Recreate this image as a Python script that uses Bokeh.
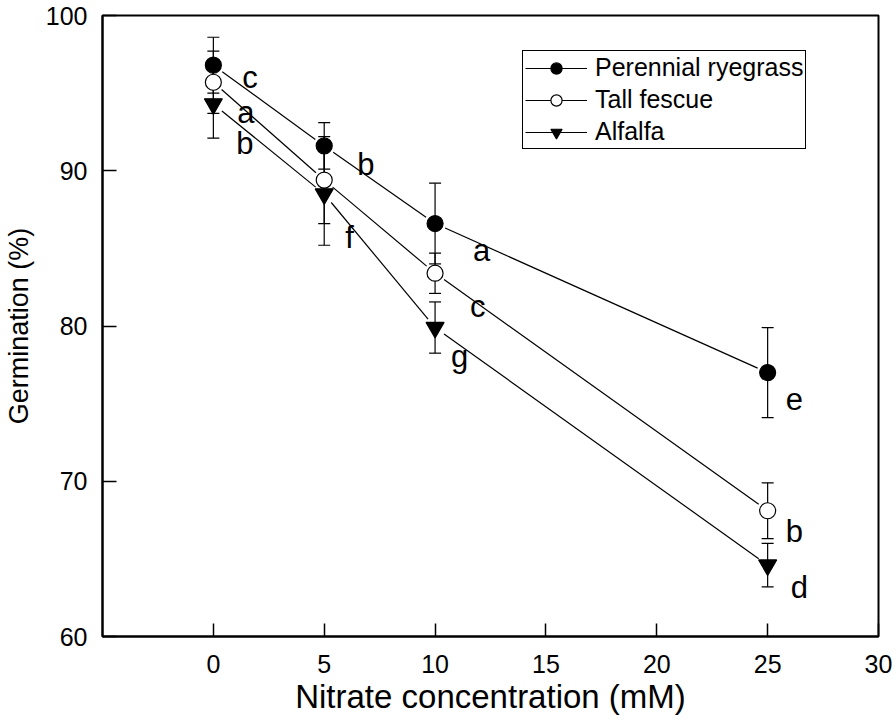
import numpy as np
from bokeh.plotting import figure
from bokeh.models import (ColumnDataSource, Whisker, TeeHead, Legend, LegendItem,
                          Range1d, FixedTicker)
from bokeh.embed import file_html
from bokeh.resources import INLINE
from bokeh.core.properties import value

# ---------------- data ----------------
conc = [0, 5, 10, 25]

rye = [96.8, 91.6, 86.6, 77.0]
rye_err = [1.8, 1.5, 2.6, 2.9]
rye_letters = ["c", "b", "a", "e"]

fescue = [95.7, 89.4, 83.4, 68.1]
fescue_err = [2.0, 2.8, 1.3, 1.8]
fescue_letters = ["a", "", "c", "b"]

alfalfa = [94.3, 88.5, 79.9, 64.6]
alfalfa_err = [2.2, 3.3, 1.65, 1.4]
alfalfa_letters = ["b", "f", "g", "d"]

series_names = ["Perennial ryegrass", "Tall fescue", "Alfalfa"]
x_ticks = [0, 5, 10, 15, 20, 25, 30]
y_ticks = [60, 70, 80, 90, 100]

# ---------------- layout / style ----------------
FONT = "Liberation Sans"
W, H = 894, 719
ML, MR, MT, MB = 101, 16, 15, 83
FW, FH = W - ML - MR, H - MT - MB
X0, X1, Y0, Y1 = -5, 30, 60, 100
SX, SY = FW / (X1 - X0), FH / (Y1 - Y0)
GAP = 11  # px gap between connecting lines and markers

# letter offsets (px, relative to the point, left/baseline anchored)
rye_off = [(29, 12), (33, 19), (38, 27), (18, 26)]
fescue_off = [(24, 30), (0, 0), (35, 33), (18, 21)]
alfalfa_off = [(23, 40), (21, 43), (16, 29), (23, 22)]

styles = [
    dict(marker="circle", fill="black", size=16),
    dict(marker="circle", fill="white", size=16),
    dict(marker="inverted_triangle", fill="black", size=18),
]

p = figure(width=W, height=H, x_range=Range1d(X0, X1), y_range=Range1d(Y0, Y1),
           output_backend="svg", toolbar_location=None,
           min_border_left=ML, min_border_right=MR, min_border_top=MT,
           min_border_bottom=MB)
p.background_fill_color = "white"
p.border_fill_color = "white"
p.grid.visible = False
p.outline_line_color = "black"
p.outline_line_width = 2
p.outline_line_alpha = 1

for ax in (p.xaxis[0], p.yaxis[0]):
    ax.axis_line_width = 2
    ax.axis_line_color = "black"
    ax.major_tick_line_width = 1.5
    ax.major_tick_line_color = "black"
    ax.minor_tick_line_color = None
    ax.major_tick_out = 0
    ax.major_label_text_font = FONT
    ax.major_label_text_font_size = "25px"
    ax.major_label_text_color = "black"
    ax.axis_label_text_font = FONT
    ax.axis_label_text_font_style = "normal"
    ax.axis_label_text_color = "black"

p.xaxis.ticker = FixedTicker(ticks=x_ticks)
p.yaxis.ticker = FixedTicker(ticks=y_ticks)
p.xaxis.major_tick_in = 13
p.yaxis.major_tick_in = 14
p.xaxis.major_label_standoff = 18
p.yaxis.major_label_standoff = 15
p.xaxis.axis_label = "Nitrate concentration (mM)"
p.yaxis.axis_label = "Germination (%)"
p.xaxis.axis_label_text_font_size = "33px"
p.yaxis.axis_label_text_font_size = "27px"
p.xaxis.axis_label_standoff = 2
p.yaxis.axis_label_standoff = 9

all_vals = [rye, fescue, alfalfa]
all_errs = [rye_err, fescue_err, alfalfa_err]
all_letters = [rye_letters, fescue_letters, alfalfa_letters]
all_offs = [rye_off, fescue_off, alfalfa_off]

items = []
for name, vals, errs, letters, offs, st in zip(series_names, all_vals, all_errs,
                                                all_letters, all_offs, styles):
    x = np.array(conc, dtype=float)
    y = np.array(vals, dtype=float)
    e = np.array(errs, dtype=float)
    # connecting segments, shortened near the markers
    x0s, y0s, x1s, y1s = [], [], [], []
    for i in range(len(x) - 1):
        dxp = (x[i + 1] - x[i]) * SX
        dyp = (y[i + 1] - y[i]) * SY
        L = np.hypot(dxp, dyp)
        ux, uy = dxp / L, dyp / L
        x0s.append(x[i] + ux * GAP / SX)
        y0s.append(y[i] + uy * GAP / SY)
        x1s.append(x[i + 1] - ux * GAP / SX)
        y1s.append(y[i + 1] - uy * GAP / SY)
    seg = p.segment(x0=x0s, y0=y0s, x1=x1s, y1=y1s, line_color="black", line_width=1.2)

    src = ColumnDataSource(dict(x=x, upper=y + e, lower=y - e))
    wh = Whisker(base="x", upper="upper", lower="lower", source=src,
                 line_color="black", line_width=1.2, level="underlay",
                 upper_head=TeeHead(size=12, line_width=1.2, line_color="black"),
                 lower_head=TeeHead(size=12, line_width=1.2, line_color="black"))
    p.add_layout(wh)

    sc = p.scatter(x=x, y=y, marker=st["marker"], size=st["size"],
                   fill_color=st["fill"], line_color="black", line_width=1.2)

    lx, ly, lt, ox, oy = [], [], [], [], []
    for xi, yi, t, (dx, dy) in zip(x, y, letters, offs):
        if t:
            lx.append(xi); ly.append(yi); lt.append(t); ox.append(dx); oy.append(dy)
    tsrc = ColumnDataSource(dict(x=lx, y=ly, t=lt, ox=ox, oy=oy))
    p.text(x="x", y="y", text="t", x_offset="ox", y_offset="oy", source=tsrc,
           text_font=value(FONT), text_font_size="31px", text_color="black",
           text_align="left", text_baseline="alphabetic")

    items.append(LegendItem(label=name, renderers=[seg, sc]))

legend = Legend(items=items, location=(420, 487))
legend.label_text_font = FONT
legend.label_text_font_size = "25px"
legend.label_text_color = "black"
legend.glyph_width = 62
legend.glyph_height = 28
legend.label_height = 28
legend.label_standoff = 8
legend.spacing = 3
legend.padding = 2
legend.margin = 0
legend.border_line_color = "black"
legend.border_line_width = 1.5
legend.border_line_alpha = 1
legend.background_fill_color = "white"
legend.background_fill_alpha = 1
p.add_layout(legend)

open("out.html", "w").write(file_html(p, INLINE))
